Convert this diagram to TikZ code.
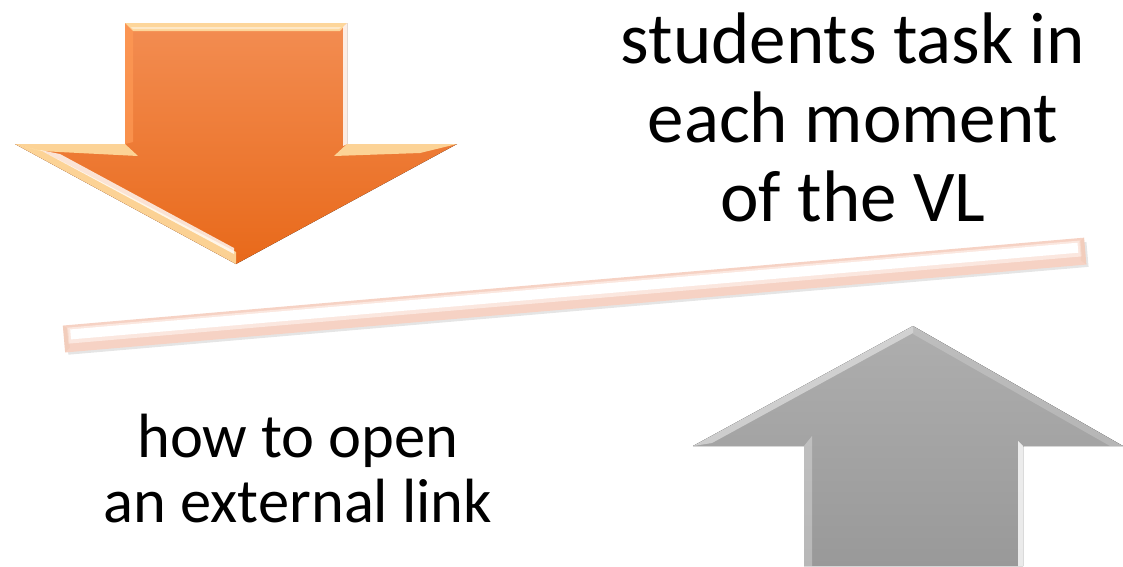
\documentclass[tikz,border=0pt]{standalone}
\usepackage{fontspec}
\setmainfont{Carlito}
\definecolor{orTop}{HTML}{F38D52}
\definecolor{orBot}{HTML}{E8691A}
\definecolor{orEdge}{HTML}{FF9A55}
\definecolor{cream}{HTML}{FFE3A8}
\definecolor{grTop}{HTML}{AEAEAE}
\definecolor{grBot}{HTML}{999999}
\definecolor{peach}{HTML}{F6D2C4}
\definecolor{peachLight}{HTML}{FBE7DF}
\tikzset{
  bigtext/.style={font=\fontsize{73}{79}\selectfont, align=center, inner sep=0pt},
  midtext/.style={font=\fontsize{62.5}{65}\selectfont, align=center, inner sep=0pt},
  bevelLight/.style={fill=cream, opacity=0.85},
  bevelWhite/.style={fill=white, opacity=0.85},
}
\begin{document}
\begin{tikzpicture}[x=1pt,y=-1pt]
\useasboundingbox (0,0) rectangle (1123,566);

% ---------- tilted bar ----------
\begin{scope}[shift={(64,339)},rotate=4.92]
  \fill[black, opacity=0.10] (3,-9) rectangle (1027,16);
  \fill[peach] (0,-13.5) rectangle (1025,13.5);
  \fill[peachLight] (4,-11) rectangle (1021,5);
  \fill[white] (7,-9) rectangle (1018,1);
  \fill[peach!80!brown, opacity=0.3] (0,-13.5) -- (5,-10) -- (5,9) -- (0,13.5) -- cycle;
  \fill[peach!80!brown, opacity=0.3] (1025,-13.5) -- (1020,-10) -- (1020,9) -- (1025,13.5) -- cycle;
\end{scope}

% ---------- orange down arrow ----------
\fill[top color=orTop, bottom color=orBot]
  (125,23) -- (347,23) -- (347,144) -- (457,144) -- (236,264) -- (15,144) -- (125,144) -- cycle;
% bevel highlights
\fill[bevelLight] (125,23) -- (347,23) -- (340,31) -- (133,31) -- cycle;
\fill[white, opacity=0.45] (131,27) -- (341,27) -- (339,29) -- (133,29) -- cycle;
\fill[orEdge, opacity=0.7] (125,23) -- (133,31) -- (133,142) -- (125,144) -- cycle;
\fill[bevelWhite] (347,23) -- (347,144) -- (343,146) -- (343,27) -- cycle;
\fill[bevelLight] (15,144) -- (125,144) -- (138,156) -- (40,151) -- cycle;
\fill[bevelLight] (347,144) -- (457,144) -- (420,153) -- (334,156) -- cycle;
\fill[bevelLight] (15,144) -- (236,264) -- (236,252) -- (42,151) -- cycle;
\fill[white, opacity=0.8] (40,150) -- (234,254) -- (234,248) -- (60,154) -- cycle;

% ---------- gray up arrow ----------
\fill[top color=grTop, bottom color=grBot]
  (913,326) -- (1123,446) -- (1023,446) -- (1023,566) -- (804,566) -- (804,446) -- (693,446) -- cycle;
\fill[white, opacity=0.45] (913,326) -- (693,446) -- (712,443) -- (913,333) -- cycle;
\fill[white, opacity=0.3] (804,446) -- (812,436) -- (812,566) -- (804,566) -- cycle;
\fill[white, opacity=0.8] (1023,446) -- (1018,441) -- (1018,566) -- (1023,566) -- cycle;
\fill[white, opacity=0.2] (913,326) -- (1123,446) -- (1110,446) -- (913,334) -- cycle;

% ---------- texts ----------
\node[bigtext, anchor=base] (top) at (853,221)
  {students task in\\each moment\\of the VL};
\node[midtext, anchor=base] (bottom) at (298,522)
  {how to open\\an external link};
\end{tikzpicture}
\end{document}
